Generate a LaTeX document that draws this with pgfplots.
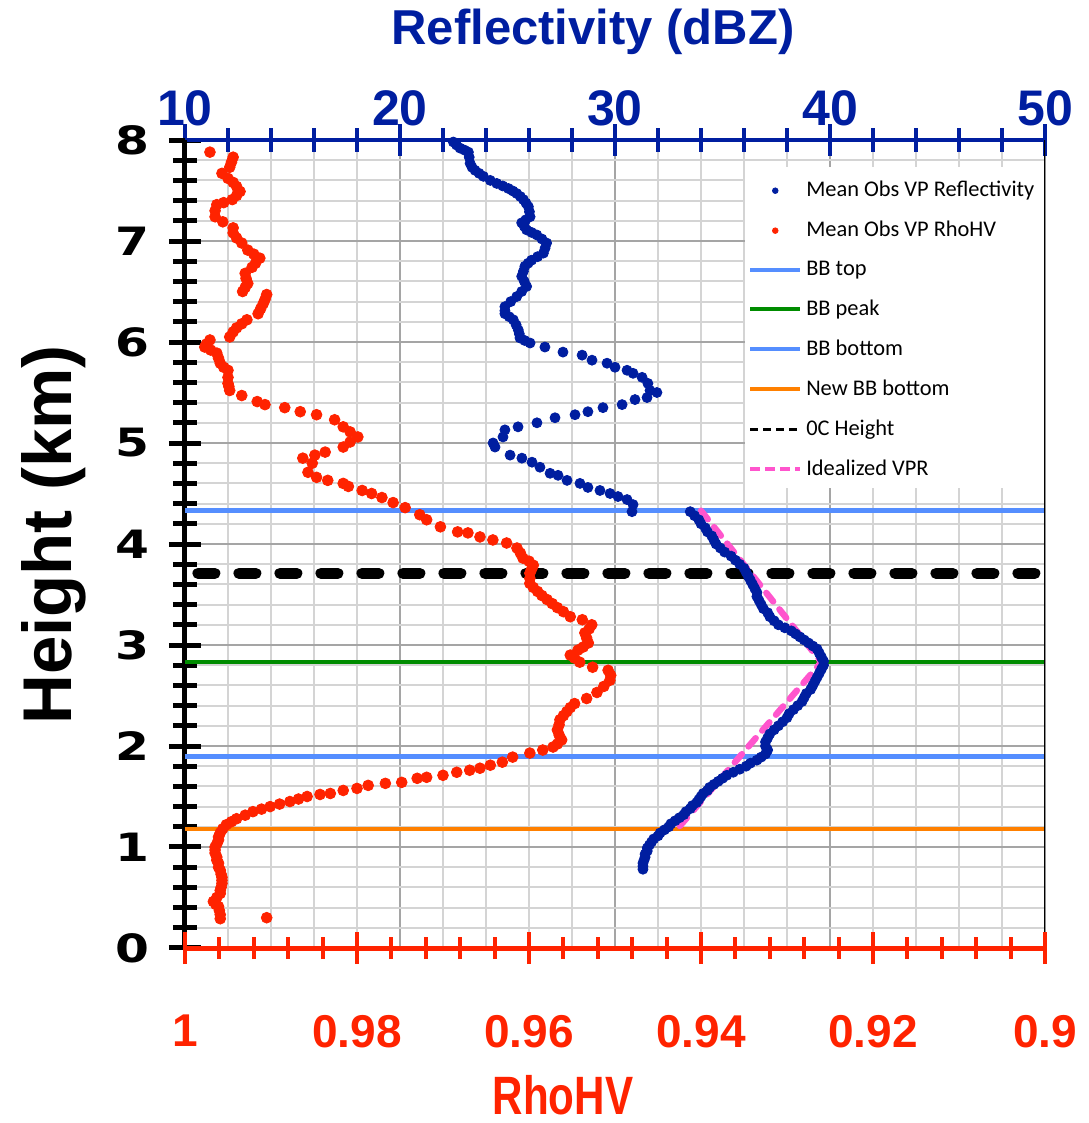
\documentclass[border=0pt]{standalone}
\usepackage{fontspec}
\setmainfont{Liberation Sans}
\newfontfamily\legfont{Carlito}
\newfontfamily\dvfont[FakeStretch=1.25]{DejaVu Sans}
\newfontfamily\narrowfont[FakeStretch=0.78]{Liberation Sans}
\usepackage{pgfplots}
\pgfplotsset{compat=1.18}
\definecolor{navy}{RGB}{0,30,160}
\definecolor{rred}{RGB}{255,35,0}
\definecolor{bbblue}{RGB}{85,142,255}
\definecolor{bbgreen}{RGB}{0,140,0}
\definecolor{bborange}{RGB}{255,128,0}
\definecolor{vprpink}{RGB}{255,85,205}
\definecolor{gridminor}{RGB}{212,212,212}
\definecolor{gridmajor}{RGB}{165,165,165}
\begin{document}
\begin{tikzpicture}
\begin{axis}[
  scale only axis, width=430pt, height=404pt,
  xmin=10, xmax=50, ymin=0, ymax=8,
  axis x line*=top, axis y line*=left,
  xtick={10,20,30,40,50}, xticklabels={10,20,30,40,50}, minor x tick num=4,
  ytick={0,1,2,3,4,5,6,7,8}, yticklabels={0,1,2,3,4,5,6,7,8}, minor y tick num=4,
  grid=both,
  major grid style={gridmajor, line width=1pt},
  minor grid style={gridminor, line width=1pt},
  tick align=center,
  major tick length=16pt, minor tick length=12pt,
  x axis line style={navy, line width=2pt},
  y axis line style={black, line width=2.5pt},
  xtick style={navy, line width=2pt},
  ytick style={black, line width=2.5pt},
  xticklabel style={font=\bfseries\fontsize{25}{25}\selectfont, text=navy, yshift=-4.5pt},
  yticklabel style={font=\dvfont\bfseries\fontsize{19.5}{19.5}\selectfont, xshift=-6.5pt},
  legend style={at={(rel axis cs:0.651,0.9641)}, anchor=north west, draw=none, fill=none,
    font=\legfont\fontsize{11.2}{13}\selectfont, inner xsep=1.5pt, inner ysep=4pt,
    row sep=6.7pt, /tikz/every odd column/.append style={column sep=0pt}},
  legend cell align=left,
]
\fill[white] (rel axis cs:0.651,0.9666) rectangle (rel axis cs:1,0.569);
% Mean observed VP reflectivity
\addplot[only marks, mark=*, navy, mark size=2.5pt, forget plot] coordinates {
(22.48,7.98) (22.63,7.95) (22.79,7.92) (23.0,7.90) (23.18,7.88) (23.22,7.83) (23.26,7.77) (23.35,7.73)
(23.49,7.70) (23.68,7.67) (23.88,7.64) (24.2,7.60) (24.50,7.57) (24.78,7.545) (25.04,7.52) (25.25,7.495)
(25.43,7.47) (25.6,7.44) (25.74,7.41) (25.86,7.375) (25.97,7.34) (26.02,7.29) (26.05,7.24) (25.85,7.21)
(25.66,7.18) (25.78,7.145) (25.89,7.11) (26.12,7.085) (26.36,7.06) (26.6,7.02) (26.82,6.98) (26.75,6.93)
(26.67,6.88) (26.4,6.845) (26.12,6.81) (25.96,6.78) (25.81,6.75) (25.74,6.70) (25.66,6.65) (25.78,6.60)
(25.89,6.55) (25.66,6.50) (25.43,6.45) (25.15,6.40) (24.88,6.35) (24.88,6.31) (24.88,6.28) (25.08,6.25)
(25.27,6.22) (25.4,6.17) (25.50,6.12) (25.55,6.08) (25.58,6.04) (25.8,6.015)
(26.05,5.99) (26.74,5.95) (27.58,5.90) (28.47,5.87) (28.93,5.82) (29.63,5.79) (30.0,5.75) (30.56,5.72)
(30.84,5.69) (31.26,5.65) (31.53,5.59) (31.63,5.52) (31.95,5.50) (31.49,5.45) (30.93,5.43) (30.33,5.38)
(29.44,5.35) (28.74,5.31) (28.14,5.28) (27.21,5.25) (26.37,5.20) (25.49,5.16) (24.88,5.13) (24.79,5.06)
(24.33,5.00) (24.42,4.96) (25.12,4.88) (25.67,4.85) (26.14,4.81) (26.51,4.76) (26.98,4.70) (27.35,4.68)
(27.77,4.63) (28.37,4.60) (28.74,4.56) (29.30,4.53) (29.77,4.50) (30.14,4.47) (30.56,4.44) (30.84,4.39)
(30.79,4.32)
(33.5,4.32) (33.7,4.28) (33.9,4.24) (34.0,4.20) (34.2,4.16) (34.3,4.12) (34.5,4.08) (34.6,4.04)
(34.7,4.00) (34.9,3.96) (35.1,3.92) (35.4,3.88) (35.6,3.84) (35.8,3.80) (36.0,3.76) (36.1,3.72)
(36.2,3.68) (36.3,3.64) (36.4,3.60) (36.5,3.56) (36.6,3.52) (36.6,3.48) (36.7,3.44) (36.8,3.40)
(36.9,3.36) (37.1,3.32) (37.2,3.28) (37.4,3.24) (37.6,3.20) (37.9,3.17) (38.2,3.14) (38.4,3.11)
(38.6,3.08) (38.8,3.05) (39.0,3.02) (39.2,2.99) (39.4,2.96) (39.5,2.92) (39.6,2.88) (39.7,2.84)
(39.7,2.80) (39.6,2.76) (39.5,2.72) (39.4,2.68) (39.3,2.64) (39.2,2.60) (39.1,2.56) (38.9,2.52)
(38.8,2.48) (38.7,2.44) (38.5,2.40) (38.3,2.36) (38.1,2.32) (38.0,2.28) (37.8,2.24) (37.6,2.20)
(37.4,2.16) (37.2,2.12) (37.1,2.08) (37.0,2.04) (37.0,2.00) (37.1,1.96) (37.0,1.92) (36.8,1.89)
(36.6,1.86) (36.3,1.83) (36.1,1.80) (35.8,1.77) (35.5,1.74) (35.2,1.71) (35.0,1.68) (34.8,1.65)
(34.6,1.62) (34.4,1.59) (34.3,1.56) (34.1,1.53) (34.0,1.50) (33.9,1.47) (33.8,1.44) (33.6,1.41)
(33.5,1.38) (33.3,1.35) (33.2,1.32) (33.0,1.29) (32.8,1.26) (32.6,1.23) (32.5,1.20) (32.3,1.17)
(32.1,1.14) (32.0,1.11) (31.8,1.08) (31.7,1.05) (31.6,1.02) (31.5,0.99) (31.5,0.96) (31.4,0.93)
(31.4,0.90) (31.35,0.87) (31.3,0.84) (31.3,0.81) (31.3,0.78)
};
\addlegendimage{legend image code/.code={\fill[navy] (12.5pt,0pt) circle (1.4pt);}}
\addlegendentry{Mean Obs VP Reflectivity}
\addlegendimage{legend image code/.code={\fill[rred] (12.5pt,0pt) circle (1.4pt);}}
\addlegendentry{Mean Obs VP RhoHV}
\addlegendimage{legend image code/.code={\draw[bbblue, line width=2pt] (0pt,0pt) -- (25pt,0pt);}}
\addlegendentry{BB top}
\addlegendimage{legend image code/.code={\draw[bbgreen, line width=2pt] (0pt,0pt) -- (25pt,0pt);}}
\addlegendentry{BB peak}
\addlegendimage{legend image code/.code={\draw[bbblue, line width=2pt] (0pt,0pt) -- (25pt,0pt);}}
\addlegendentry{BB bottom}
\addlegendimage{legend image code/.code={\draw[bborange, line width=2pt] (0pt,0pt) -- (25pt,0pt);}}
\addlegendentry{New BB bottom}
\addlegendimage{legend image code/.code={\draw[black, line width=1.5pt, dash pattern=on 4pt off 2.5pt] (0pt,0pt) -- (25pt,0pt);}}
\addlegendentry{0C Height}
\addlegendimage{legend image code/.code={\draw[vprpink, line width=2pt, dash pattern=on 5pt off 2.5pt] (0pt,0pt) -- (25pt,0pt);}}
\addlegendentry{Idealized VPR}
% BB lines
\addplot[bbblue, line width=2.5pt, forget plot] coordinates {(10,4.33) (50,4.33)};
\addplot[bbgreen, line width=2pt, forget plot] coordinates {(10,2.83) (50,2.83)};
\addplot[bbblue, line width=2.5pt, forget plot] coordinates {(10,1.90) (50,1.90)};
\addplot[bborange, line width=2pt, forget plot] coordinates {(10,1.18) (50,1.18)};
\addplot[black, line width=5.5pt, line cap=round, dash pattern=on 8.5pt off 12pt, forget plot] coordinates {(10.6,3.71) (50,3.71)};
\addplot[vprpink, line width=3.2pt, line cap=round, dash pattern=on 5.5pt off 5pt, forget plot] coordinates {(34.0,4.33) (39.6,2.83) (32.9,1.18)};
\draw[black, line width=1pt] (rel axis cs:1,0) -- (rel axis cs:1,1);
\end{axis}
\begin{axis}[
  scale only axis, width=430pt, height=404pt,
  xmin=0.9, xmax=1, ymin=0, ymax=8, x dir=reverse,
  axis x line*=bottom, axis y line=none,
  xtick={0.9,0.92,0.94,0.96,0.98,1}, xticklabels={0.9,0.92,0.94,0.96,0.98,1}, minor x tick num=4,
  tick align=center,
  major tick length=16pt, minor tick length=11pt,
  x axis line style={rred, line width=2.5pt},
  xtick style={rred, line width=2pt},
  xticklabel style={font=\bfseries\fontsize{23}{23}\selectfont, text=rred, yshift=-22pt},
]
\addplot[only marks, mark=*, rred, mark size=2.7pt] coordinates {
(0.9971,7.88) (0.9944,7.83) (0.9946,7.78) (0.9948,7.73) (0.9957,7.67) (0.9950,7.62) (0.9944,7.58) (0.9940,7.54)
(0.9936,7.49) (0.9940,7.45) (0.9945,7.41) (0.9955,7.38) (0.9963,7.36) (0.9965,7.30) (0.9965,7.24) (0.9956,7.19)
(0.9944,7.13) (0.9944,7.08) (0.9940,7.03) (0.9934,6.98) (0.9927,6.91) (0.9920,6.87) (0.9913,6.83) (0.9918,6.78)
(0.9922,6.74) (0.9930,6.68) (0.9929,6.63) (0.9927,6.58) (0.9930,6.54) (0.9933,6.50) (0.9905,6.47) (0.9907,6.42)
(0.9909,6.38) (0.9912,6.33) (0.9915,6.28) (0.9928,6.22) (0.9934,6.18) (0.9940,6.14) (0.9944,6.10) (0.9948,6.05)
(0.9971,6.02) (0.9975,5.98) (0.9977,5.95) (0.9970,5.92) (0.9963,5.89) (0.9961,5.84) (0.9959,5.79) (0.9955,5.75)
(0.9950,5.72) (0.9950,5.65) (0.9950,5.59) (0.9949,5.56) (0.9948,5.52)
(0.9934,5.47) (0.9916,5.41) (0.9907,5.38) (0.9884,5.35) (0.9866,5.31) (0.9847,5.28) (0.9826,5.23) (0.9816,5.16)
(0.9808,5.11) (0.9799,5.06) (0.9808,5.01) (0.9816,4.96) (0.9837,4.91) (0.9849,4.88) (0.9863,4.85) (0.9852,4.80)
(0.9857,4.71) (0.9847,4.66) (0.9834,4.63) (0.9816,4.60) (0.9810,4.57) (0.9794,4.53) (0.9783,4.50) (0.9771,4.46)
(0.9758,4.41) (0.9744,4.36) (0.9727,4.29) (0.9719,4.24) (0.9703,4.17) (0.9683,4.12) (0.9671,4.11) (0.9657,4.07)
(0.9642,4.04) (0.9626,4.01) (0.9614,3.96) (0.9610,3.91) (0.9607,3.86) (0.9600,3.83) (0.9595,3.79) (0.9597,3.75)
(0.9599,3.71) (0.9599,3.66) (0.9599,3.61) (0.9595,3.57) (0.9590,3.53) (0.9585,3.49) (0.9579,3.45) (0.9573,3.41)
(0.9567,3.37) (0.9560,3.33) (0.9552,3.28) (0.9538,3.25) (0.9527,3.20) (0.9530,3.16) (0.9535,3.12) (0.9533,3.07)
(0.9531,3.02) (0.9537,2.98) (0.9543,2.95) (0.9552,2.90) (0.9547,2.87) (0.9541,2.83) (0.9526,2.78) (0.9508,2.75)
(0.9505,2.70) (0.9506,2.65) (0.9513,2.59) (0.9521,2.53) (0.9533,2.47) (0.9547,2.42) (0.9552,2.38) (0.9556,2.34)
(0.9560,2.30) (0.9564,2.26) (0.9565,2.21) (0.9567,2.16) (0.9565,2.11) (0.9562,2.06) (0.9567,2.02) (0.9572,1.99)
(0.9584,1.96) (0.9599,1.93) (0.9619,1.89) (0.9631,1.84) (0.9645,1.81) (0.9657,1.78) (0.9669,1.76) (0.9684,1.74)
(0.9700,1.71) (0.9719,1.69) (0.9730,1.68) (0.9748,1.64) (0.9767,1.63) (0.9787,1.61) (0.9800,1.58) (0.9816,1.56)
(0.9831,1.53) (0.9843,1.52) (0.9858,1.50) (0.9868,1.475) (0.9878,1.45) (0.9890,1.425) (0.9901,1.40) (0.9911,1.375)
(0.9921,1.35) (0.9930,1.315) (0.9940,1.28) (0.9946,1.25) (0.9952,1.22) (0.9956,1.18) (0.9959,1.14) (0.9961,1.10)
(0.9961,1.07) (0.9963,1.03) (0.9965,1.00) (0.9965,0.97) (0.9965,0.94) (0.9963,0.90) (0.9963,0.87) (0.9961,0.84)
(0.9961,0.80) (0.9959,0.77) (0.9958,0.73) (0.9957,0.70) (0.9957,0.67) (0.9957,0.64) (0.9958,0.60) (0.9959,0.57)
(0.9959,0.54) (0.9963,0.50) (0.9967,0.46) (0.9964,0.43) (0.9961,0.41) (0.9960,0.37) (0.9959,0.33) (0.9959,0.29)
(0.9905,0.30)
};
\end{axis}
\node[anchor=base, font=\bfseries\fontsize{24.5}{24.5}\selectfont, text=navy] at (204pt,451.5pt) {Reflectivity (dBZ)};
\node[anchor=base, inner sep=0pt, font=\narrowfont\bfseries\fontsize{27}{27}\selectfont, text=rred] at (189pt,-83pt) {RhoHV};
\node[anchor=base, rotate=90, font=\bfseries\fontsize{34.5}{34.5}\selectfont] at (-56.5pt,206.5pt) {Height (km)};
\pgfresetboundingbox
\path (-92.5pt,-87.5pt) rectangle (451.5pt,474pt);
\end{tikzpicture}
\end{document}
